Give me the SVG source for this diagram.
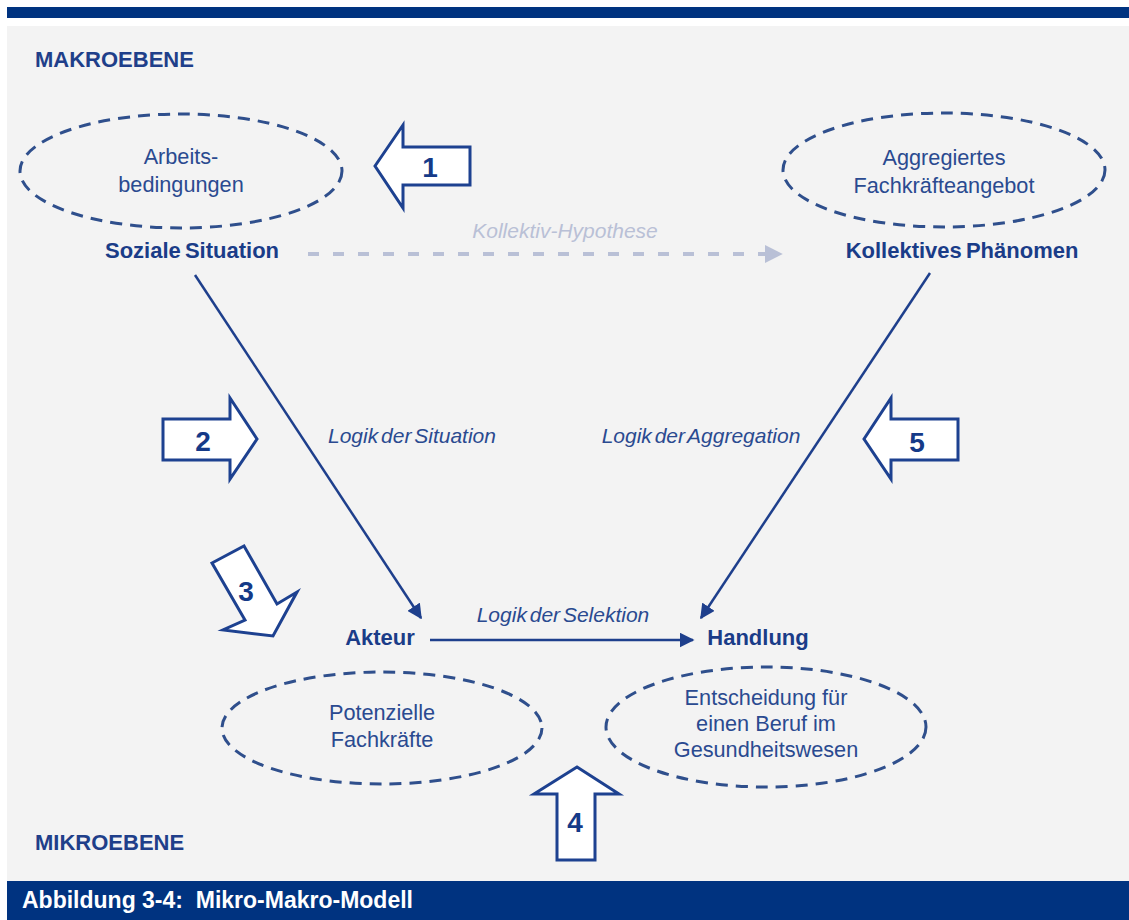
<svg xmlns="http://www.w3.org/2000/svg" width="1129" height="920" viewBox="0 0 1129 920">
<defs>
<style>
.t{font-family:"Liberation Sans",Arial,sans-serif;fill:#1f3f8a}
.b{font-weight:bold}
.n{font-size:21.7px;fill:#2a4a90;text-anchor:middle}
.h{font-size:22px;font-weight:bold;text-anchor:middle;fill:#1a3c88;word-spacing:-2px}
.i{font-size:21px;font-style:italic;text-anchor:middle;fill:#2a4a90;word-spacing:-3px}
.ell{fill:none;stroke:#2f4f8c;stroke-width:3;stroke-dasharray:12 8}
.blk{fill:#ffffff;stroke:#1d4190;stroke-width:3;stroke-linejoin:miter}
.num{font-family:"Liberation Sans",Arial,sans-serif;font-size:28px;font-weight:bold;fill:#153a88;text-anchor:middle}
.ln{stroke:#1e3f8c;stroke-width:2.5;fill:none}
</style>
<marker id="ah" viewBox="0 0 10 10" refX="9" refY="5" markerWidth="6" markerHeight="6" markerUnits="strokeWidth" orient="auto">
<path d="M0,0 L10,5 L0,10 Z" fill="#1e3f8c"/>
</marker>
<marker id="ahg" viewBox="0 0 10 10" refX="9" refY="5" markerWidth="4.5" markerHeight="4.5" markerUnits="strokeWidth" orient="auto">
<path d="M0,0 L10,5 L0,10 Z" fill="#b9c0d6"/>
</marker>
</defs>
<rect x="0" y="0" width="1129" height="920" fill="#ffffff"/>
<rect x="7" y="7" width="1122" height="11" fill="#003380"/>
<rect x="7" y="26" width="1122" height="855" fill="#f3f3f3"/>
<rect x="7" y="881" width="1122" height="39" fill="#003380"/>
<text class="t" x="22" y="908" xml:space="preserve" style="fill:#ffffff;font-weight:bold;font-size:23px">Abbildung 3-4:  Mikro-Makro-Modell</text>

<text class="t b" x="35" y="67" font-size="22">MAKROEBENE</text>
<text class="t b" x="35" y="850" font-size="22">MIKROEBENE</text>

<g id="connectors">
<line x1="308" y1="254" x2="781" y2="254" stroke="#b9c0d6" stroke-width="4" stroke-dasharray="11 14" marker-end="url(#ahg)"/>
<line class="ln" x1="195" y1="275" x2="421" y2="618" marker-end="url(#ah)"/>
<line class="ln" x1="930" y1="273" x2="701" y2="618" marker-end="url(#ah)"/>
<line class="ln" x1="430" y1="640" x2="693" y2="640" marker-end="url(#ah)"/>
<text class="t i" x="565" y="238" style="fill:#b9c0d6">Kollektiv-Hypothese</text>
<text class="t i" x="412" y="443">Logik der Situation</text>
<text class="t i" x="701" y="443">Logik der Aggregation</text>
<text class="t i" x="563" y="622">Logik der Selektion</text>
</g>

<g id="node-soziale-situation">
<ellipse class="ell" cx="181" cy="171" rx="161" ry="57"/>
<text class="t n" x="181" y="164">Arbeits-</text>
<text class="t n" x="181" y="192">bedingungen</text>
<text class="t h" x="192" y="258">Soziale Situation</text>
</g>

<g id="node-kollektives-phaenomen">
<ellipse class="ell" cx="944" cy="170" rx="161" ry="57"/>
<text class="t n" x="944" y="165">Aggregiertes</text>
<text class="t n" x="944" y="193">Fachkräfteangebot</text>
<text class="t h" x="962" y="258">Kollektives Phänomen</text>
</g>

<g id="node-akteur">
<text class="t h" x="380" y="645">Akteur</text>
<ellipse class="ell" cx="382" cy="728" rx="160" ry="56"/>
<text class="t n" x="382" y="720">Potenzielle</text>
<text class="t n" x="382" y="747">Fachkräfte</text>
</g>

<g id="node-handlung">
<text class="t h" x="758" y="645">Handlung</text>
<ellipse class="ell" cx="766" cy="727" rx="160" ry="60"/>
<text class="t n" x="766" y="705">Entscheidung für</text>
<text class="t n" x="766" y="731">einen Beruf im</text>
<text class="t n" x="766" y="757">Gesundheitswesen</text>
</g>

<g id="arrow-1">
<polygon class="blk" points="375,166 403,125 403,147 470,147 470,185 403,185 403,208"/>
<text class="num" x="430" y="177">1</text>
</g>
<g id="arrow-2">
<polygon class="blk" points="257,439 230,398 230,419 163,419 163,460 230,460 230,479"/>
<text class="num" x="203" y="451">2</text>
</g>
<g id="arrow-3">
<polygon class="blk" points="212,563 244,546 277,604 297,592 273,636 223,630 245,620"/>
<text class="num" x="246" y="601">3</text>
</g>
<g id="arrow-4">
<polygon class="blk" points="577,767 619,794 595,794 595,860 557,860 557,794 534,794"/>
<text class="num" x="575" y="832">4</text>
</g>
<g id="arrow-5">
<polygon class="blk" points="864,439 891,398 891,419 958,419 958,460 891,460 891,479"/>
<text class="num" x="917" y="452">5</text>
</g>
</svg>
